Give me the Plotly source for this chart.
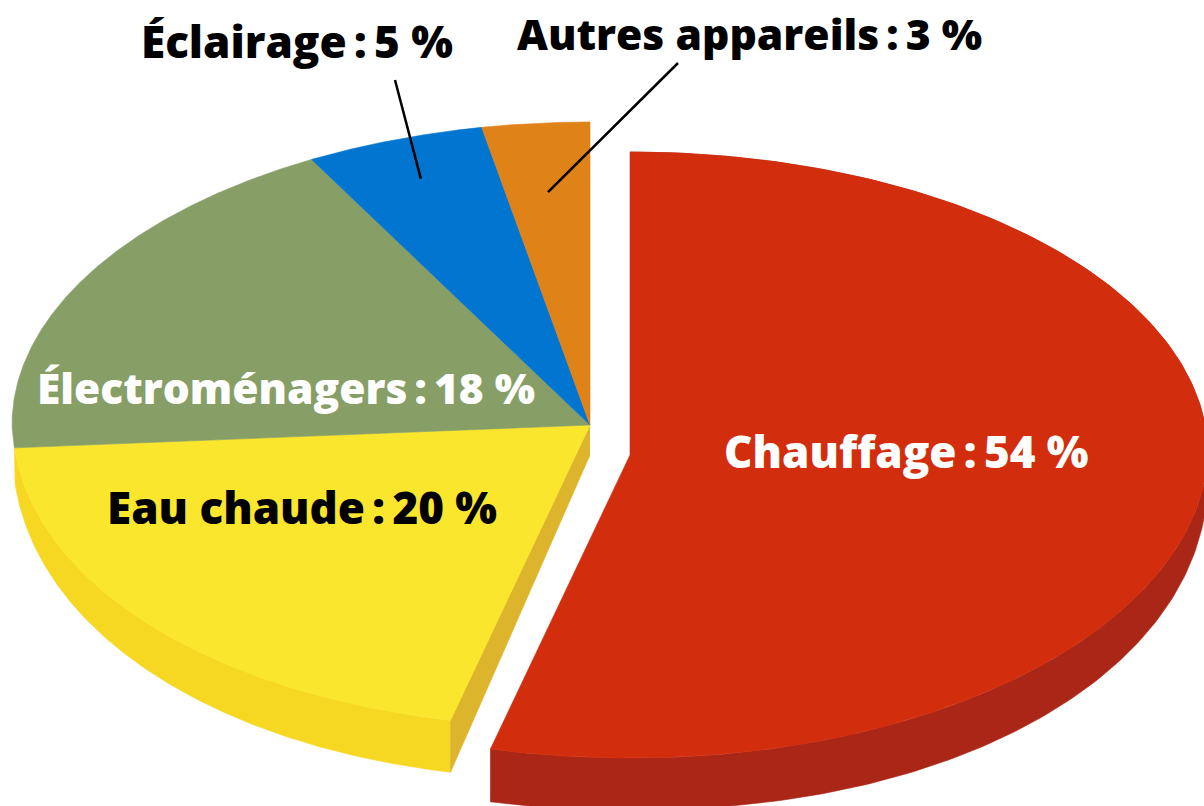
import numpy as np
import plotly.graph_objects as go

categories = ["Chauffage", "Eau chaude", "Électroménagers", "Éclairage", "Autres appareils"]
values = [54, 20, 18, 5, 3]
face_colors = ["#D22E0E", "#FBE62E", "#879F67", "#0175D0", "#DF8218"]
wall_colors = ["#AA2617", "#F6D722", None, None, None]
side_colors = [None, "#DDB52C", None, None, None]
label_colors = ["white", "black", "white", "black", "black"]
label_sizes = [44, 44, 42.5, 44, 42.6]

label_pos = {
    "Chauffage": (906, 451),
    "Eau chaude": (302, 507),
    "Électroménagers": (286, 387),
    "Éclairage": (297, 41),
    "Autres appareils": (749, 33),
}
leader_start = {"Éclairage": (395, 80, 0.864), "Autres appareils": (678, 63, 0.772)}

RX, RY = 578, 303
DROP, DROP_RY = 30, 22
CENTER = (590, 425)
RED_CENTER = (630, 455)
FACE_N = [2.03, 2.12, 2.12, 2.12, 2.12]
WALL_N = [2.12, 2.15, 2, 2, 2]
NARROW = 0.03


def point(center, ang, r=1.0, rx=RX, ry=RY, n=2.0):
    a = np.radians(ang)
    sx, cy = np.sin(a), np.cos(a)
    # the lower half of the rim bulges a little, as it does in the perspective drawing
    low = np.power(np.clip(1 - np.abs(sx) ** n, 0, 1), 1 / n)
    cy2 = np.where(cy < 0, -low, cy)
    sx2 = sx * (1 - NARROW * np.where(cy < 0, low, 0))
    return center[0] + r * rx * sx2, center[1] - r * ry * cy2


def poly(fig, xs, ys, color, name):
    fig.add_trace(go.Scatter(x=list(xs), y=list(ys), mode="lines", fill="toself",
                             fillcolor=color, line=dict(color=color, width=0.6),
                             hoverinfo="text", text=name, showlegend=False))


fig = go.Figure()
edges = np.concatenate([[0], np.cumsum(values)]) * 3.6
faces = []
for i, cat in enumerate(categories):
    c = RED_CENTER if i == 0 else CENTER
    a0, a1 = edges[i], edges[i + 1]
    t = np.linspace(a0, a1, 240)
    tx, ty = point(c, t, n=FACE_N[i])
    if wall_colors[i]:
        bc = (c[0], c[1] + DROP)
        bx, by = point(bc, t, ry=RY + DROP_RY, n=WALL_N[i])
        poly(fig, np.r_[tx, bx[::-1]], np.r_[ty, by[::-1]], wall_colors[i], cat)
    if side_colors[i]:
        ex, ey = point(c, a0, n=FACE_N[i])
        ebx, eby = point((c[0], c[1] + DROP), a0, ry=RY + DROP_RY, n=WALL_N[i])
        poly(fig, [c[0], ex, ebx, c[0]], [c[1], ey, eby, c[1] + DROP], side_colors[i], cat)
    faces.append((np.r_[c[0], tx, c[0]], np.r_[c[1], ty, c[1]], face_colors[i], cat))
for f in faces:
    poly(fig, *f)

annotations = []
shapes = []
for i, cat in enumerate(categories):
    x, y = label_pos[cat]
    annotations.append(dict(x=x, y=y, xref="x", yref="y", showarrow=False,
                            text=f"{cat}\u2009:\u2009{values[i]}\u00a0%",
                            font=dict(family="Open Sans", size=label_sizes[i],
                                      color=label_colors[i], weight=800)))
    if cat in leader_start:
        sx, sy, r = leader_start[cat]
        mid = (edges[i] + edges[i + 1]) / 2
        ex, ey = point(CENTER, mid, r)
        shapes.append(dict(type="line", xref="x", yref="y", x0=sx, y0=sy, x1=float(ex), y1=float(ey),
                           line=dict(color="black", width=2.5)))

fig.update_layout(
    width=1204, height=806, margin=dict(l=0, r=0, t=0, b=0),
    paper_bgcolor="white", plot_bgcolor="white", showlegend=False,
    xaxis=dict(range=[0, 1204], visible=False, fixedrange=True),
    yaxis=dict(range=[806, 0], visible=False, fixedrange=True),
    annotations=annotations, shapes=shapes,
)
fig.write_html("out.html", config=dict(displayModeBar=False),
               post_script="document.body.style.margin='0';document.body.style.overflow='hidden';")
